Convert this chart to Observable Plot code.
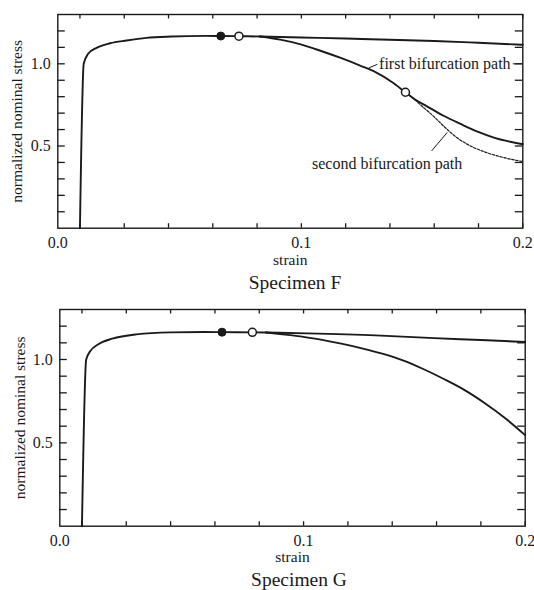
<!DOCTYPE html>
<html><head><meta charset="utf-8">
<script src="https://cdn.jsdelivr.net/npm/d3@7"></script>
<script src="https://cdn.jsdelivr.net/npm/@observablehq/plot@0.6"></script>
<style>
body{margin:0;background:#fff;}
#wrap{position:relative;width:534px;height:590px;font-family:"Liberation Serif","Times New Roman",serif;color:#1a1a1a;overflow:hidden;}
.panel{position:absolute;left:0;}
.panel svg, .panel svg text{font-family:"Liberation Serif","Times New Roman",serif !important;}
.cap{position:absolute;font-size:19.5px;transform:translate(-50%,-50%);white-space:nowrap;line-height:1;}
</style></head><body>
<div id="wrap"></div>
<script>
// ---- axes ----
const xTicks = [0, 0.02, 0.04, 0.06, 0.08, 0.1, 0.12, 0.14, 0.16, 0.18, 0.2];
const xLabelTicks = [-0.01, 0.1, 0.2];
const xLabelText = ["0.0", "0.1", "0.2"];
const yTicks = [0.1, 0.2, 0.3, 0.4, 0.5, 0.6, 0.7, 0.8, 0.9, 1.0, 1.1, 1.2];
const yLabelTicks = [0.5, 1.0];
const yLabelText = ["0.5", "1.0"];
const xTitle = "strain";
const yTitle = "normalized nominal stress";

// ---- Specimen F ----
const fPreStrain = [0, 0.0017, 0.0037, 0.0075, 0.0136, 0.0211, 0.030, 0.0413, 0.0567, 0.064, 0.0722, 0.0813];
const fPreStress = [0, 1.00, 1.061, 1.097, 1.125, 1.142, 1.158, 1.166, 1.170, 1.169, 1.168, 1.166];
const fUpperStrain = [0.0813, 0.1, 0.12, 0.14, 0.16, 0.18, 0.2];
const fUpperStress = [1.166, 1.160, 1.154, 1.146, 1.139, 1.128, 1.116];
const fFirstStrain = [0.0813, 0.0905, 0.0997, 0.1089, 0.1181, 0.1273, 0.1335, 0.1412, 0.147, 0.1517, 0.1565, 0.1642, 0.1719, 0.1796, 0.1873, 0.2];
const fFirstStress = [1.166, 1.147, 1.118, 1.078, 1.034, 0.985, 0.949, 0.886, 0.827, 0.780, 0.743, 0.684, 0.634, 0.587, 0.549, 0.511];
const fSecondStrain = [0.147, 0.1505, 0.1545, 0.1596, 0.1645, 0.170, 0.175, 0.1826, 0.1919, 0.2];
const fSecondStress = [0.827, 0.790, 0.742, 0.682, 0.618, 0.553, 0.510, 0.465, 0.428, 0.405];
const fFilledStrain = [0.0636], fFilledStress = [1.169];
const fOpenStrain = [0.0718, 0.147], fOpenStress = [1.168, 0.827];
const fNotes = ["first bifurcation path", "second bifurcation path"];
const fNoteStrain = [0.1351, 0.1048];
const fNoteStress = [1.0, 0.391];
const fLeaderX1 = [0.1305, 0.1955, 0.1588], fLeaderY1 = [0.975, 1.0, 0.470];
const fLeaderX2 = [0.1343, 0.2, 0.1659], fLeaderY2 = [0.997, 1.0, 0.583];

// ---- Specimen G ----
const gPreStrain = [0, 0.0019, 0.0037, 0.0076, 0.0137, 0.0245, 0.0399, 0.0554, 0.0632, 0.0769, 0.0831];
const gPreStress = [0, 1.00, 1.049, 1.093, 1.125, 1.151, 1.163, 1.165, 1.164, 1.163, 1.162];
const gUpperStrain = [0.0831, 0.1016, 0.1325, 0.159, 0.18, 0.2];
const gUpperStress = [1.162, 1.157, 1.145, 1.128, 1.117, 1.105];
const gLowerStrain = [0.0831, 0.0894, 0.0986, 0.1078, 0.117, 0.1263, 0.1355, 0.1448, 0.154, 0.1633, 0.1725, 0.1818, 0.191, 0.2];
const gLowerStress = [1.162, 1.153, 1.139, 1.119, 1.095, 1.067, 1.035, 0.995, 0.943, 0.883, 0.818, 0.738, 0.648, 0.546];
const gFilledStrain = [0.0632], gFilledStress = [1.164];
const gOpenStrain = [0.0769], gOpenStress = [1.163];

const captions = ["Specimen F", "Specimen G"];

const zip = (xs, ys) => xs.map((x, i) => ({x, y: ys[i]}));
const ink = "#1a1a1a";
const W = 534;
const serif = "Liberation Serif";

function makePanel(cfg) {
  const innerH = cfg.height - cfg.marginTop - cfg.marginBottom;
  const innerW = W - cfg.marginLeft - cfg.marginRight;
  const marks = [
    Plot.frame({stroke: ink, strokeWidth: 1.4}),
    Plot.tickX(xTicks, {x: d => d, insetTop: innerH - 4.5, stroke: ink, strokeWidth: 1.3}),
    Plot.tickX(xTicks, {x: d => d, insetBottom: innerH - 4.5, stroke: ink, strokeWidth: 1.3}),
    Plot.tickY(yTicks, {y: d => d, insetRight: innerW - 7.5, stroke: ink, strokeWidth: 1.3}),
    Plot.tickY(yTicks, {y: d => d, insetLeft: innerW - 7.5, stroke: ink, strokeWidth: 1.3}),
    Plot.axisX(xLabelTicks, {tickSize: 0, tickPadding: 8, tickFormat: d => xLabelText[xLabelTicks.indexOf(d)],
      fontSize: 16, fontFamily: serif, fill: ink, label: null}),
    Plot.axisY(yLabelTicks, {tickSize: 0, tickPadding: 7, tickFormat: d => yLabelText[yLabelTicks.indexOf(d)],
      fontSize: 16, fontFamily: serif, fill: ink, label: null}),
    Plot.text([xTitle], {frameAnchor: "bottom", textAnchor: "middle", lineAnchor: "middle", dy: cfg.xTitleDy, fontSize: 15.5, fontFamily: serif, fill: ink}),
    Plot.text([yTitle], {frameAnchor: "left", textAnchor: "middle", lineAnchor: "middle", rotate: -90, dx: cfg.yTitleDx, fontSize: 15.5, fontFamily: serif, fill: ink})
  ];
  for (const s of cfg.solid) marks.push(Plot.line(s, {x: "x", y: "y", stroke: ink, strokeWidth: 1.9, curve: "monotone-x"}));
  for (const s of cfg.dashed || []) marks.push(Plot.line(s, {x: "x", y: "y", stroke: ink, strokeWidth: 1.2, strokeDasharray: "2.5,1.5", curve: "monotone-x"}));
  if (cfg.leaders) marks.push(Plot.link(cfg.leaders, {x1: "x1", y1: "y1", x2: "x2", y2: "y2", stroke: ink, strokeWidth: 1}));
  if (cfg.notes) marks.push(Plot.text(cfg.notes, {x: "x", y: "y", text: "t", textAnchor: "start", fontSize: 16, fontFamily: serif, fill: ink}));
  marks.push(Plot.dot(cfg.filled, {x: "x", y: "y", r: 4, fill: ink, stroke: ink, strokeWidth: 1}));
  marks.push(Plot.dot(cfg.open, {x: "x", y: "y", r: 4, fill: "white", stroke: ink, strokeWidth: 1.5}));
  return Plot.plot({
    width: W, height: cfg.height,
    marginTop: cfg.marginTop, marginBottom: cfg.marginBottom,
    marginLeft: cfg.marginLeft, marginRight: cfg.marginRight,
    x: {domain: [-0.01, 0.2], axis: null},
    y: {domain: [0, 1.3], axis: null},
    style: {fontFamily: '"Liberation Serif","Times New Roman",serif', fontSize: "16px", color: ink, background: "transparent", overflow: "visible"},
    marks
  });
}

const wrap = document.getElementById("wrap");

const pF = makePanel({
  height: 270, marginTop: 14, marginBottom: 42.3, marginLeft: 57.3, marginRight: 11.7,
  xTitleDy: 32, yTitleDx: -41,
  solid: [zip(fPreStrain, fPreStress), zip(fUpperStrain, fUpperStress), zip(fFirstStrain, fFirstStress)],
  dashed: [zip(fSecondStrain, fSecondStress)],
  leaders: fLeaderX1.map((x1, i) => ({x1, y1: fLeaderY1[i], x2: fLeaderX2[i], y2: fLeaderY2[i]})),
  notes: fNotes.map((t, i) => ({t, x: fNoteStrain[i], y: fNoteStress[i]})),
  filled: zip(fFilledStrain, fFilledStress),
  open: zip(fOpenStrain, fOpenStress)
});
const dF = document.createElement("div"); dF.className = "panel"; dF.style.top = "0px"; dF.appendChild(pF); wrap.appendChild(dF);

const pG = makePanel({
  height: 280, marginTop: 19, marginBottom: 44.3, marginLeft: 59.3, marginRight: 9.3,
  xTitleDy: 31, yTitleDx: -40,
  solid: [zip(gPreStrain, gPreStress), zip(gUpperStrain, gUpperStress), zip(gLowerStrain, gLowerStress)],
  filled: zip(gFilledStrain, gFilledStress),
  open: zip(gOpenStrain, gOpenStress)
});
const dG = document.createElement("div"); dG.className = "panel"; dG.style.top = "290px"; dG.appendChild(pG); wrap.appendChild(dG);

const capPos = [[295, 283], [299, 580]];
captions.forEach((c, i) => {
  const d = document.createElement("div");
  d.className = "cap"; d.textContent = c;
  d.style.left = capPos[i][0] + "px"; d.style.top = capPos[i][1] + "px";
  wrap.appendChild(d);
});
</script>
</body></html>
